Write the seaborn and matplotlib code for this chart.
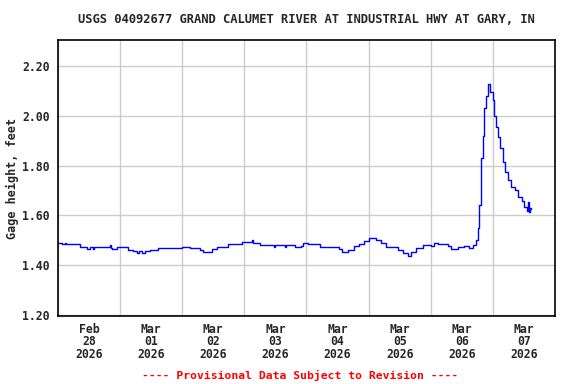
import pandas as pd
import numpy as np
import seaborn as sns
import matplotlib
matplotlib.use("Agg")
import matplotlib.pyplot as plt
import matplotlib.dates as mdates
from matplotlib.ticker import NullFormatter

# hours after 2026-02-28 00:00 and gage height (ft)
hours = [0.0, 1.5, 2.6, 3.0, 8.5, 11.2, 12.4, 13.6, 14.0, 15.5,
         20.1, 20.5, 20.9, 22.8, 27.1, 29.0, 30.6, 31.1, 32.6, 33.6,
         34.0, 35.6, 38.7, 48.0, 51.1, 55.0, 56.1, 59.6, 61.5, 65.8,
         71.2, 75.1, 75.5, 78.2, 80.1, 83.6, 84.0, 87.6, 88.0, 91.7,
         93.7, 94.8, 96.4, 101.4, 108.4, 109.9, 112.2, 114.2, 116.1, 118.1,
         120.0, 122.7, 124.6, 126.6, 131.2, 133.1, 135.1, 136.2, 138.2, 140.9,
         144.0, 145.1, 146.7, 150.6, 151.7, 154.4, 156.8, 158.7, 160.2, 161.4,
         162.2, 162.6, 163.3, 164.1, 164.5, 165.3, 166.1, 166.8, 168.0, 168.4,
         169.1, 169.9, 170.7, 171.9, 172.6, 173.8, 175.0, 176.5, 177.7, 179.2,
         180.0, 181.1, 181.5, 181.9, 182.3, 182.7]
gage = [1.490, 1.485, 1.490, 1.485, 1.472, 1.466, 1.472, 1.466, 1.472, 1.472,
        1.480, 1.468, 1.466, 1.472, 1.462, 1.455, 1.450, 1.455, 1.450, 1.455,
        1.455, 1.462, 1.469, 1.473, 1.469, 1.462, 1.453, 1.466, 1.473, 1.486,
        1.492, 1.500, 1.489, 1.480, 1.480, 1.473, 1.480, 1.473, 1.480, 1.473,
        1.476, 1.489, 1.485, 1.472, 1.466, 1.453, 1.462, 1.476, 1.486, 1.498,
        1.509, 1.500, 1.489, 1.473, 1.462, 1.449, 1.436, 1.453, 1.469, 1.482,
        1.476, 1.489, 1.486, 1.476, 1.466, 1.472, 1.476, 1.469, 1.480, 1.500,
        1.550, 1.640, 1.830, 1.920, 2.030, 2.080, 2.127, 2.097, 2.063, 2.000,
        1.956, 1.916, 1.870, 1.816, 1.775, 1.742, 1.715, 1.702, 1.675, 1.658,
        1.635, 1.618, 1.653, 1.615, 1.630, 1.625]

start = pd.Timestamp("2026-02-28")
df = pd.DataFrame({"time": start + pd.to_timedelta(hours, unit="h"), "gage": gage})

sns.set_style("white")
plt.rcParams['font.family'] = ['DejaVu Sans Mono']
plt.rcParams['font.weight'] = 'bold'

fig = plt.figure(figsize=(5.76, 3.84), dpi=100)
ax = fig.add_axes([0.1007, 0.177, 0.8628, 0.719])

sns.lineplot(data=df, x="time", y="gage", color="#0000ff", linewidth=1.0,
             estimator=None, drawstyle="steps-post", ax=ax)

ax.set_xlim(start, start + pd.Timedelta(days=8))
ax.set_ylim(1.196, 2.304)
ax.set_yticks([1.2, 1.4, 1.6, 1.8, 2.0, 2.2])
ax.set_yticklabels(["%.2f" % v for v in [1.2, 1.4, 1.6, 1.8, 2.0, 2.2]])

ax.xaxis.set_major_locator(mdates.DayLocator())
ax.xaxis.set_major_formatter(NullFormatter())
ax.xaxis.set_minor_locator(mdates.HourLocator(byhour=12))
ax.xaxis.set_minor_formatter(mdates.DateFormatter("%b\n%d\n%Y"))
ax.tick_params(axis="both", which="both", length=0, labelsize=8.3)
ax.tick_params(axis="x", which="minor", pad=5)
ax.tick_params(axis="y", pad=6)
for lab in ax.get_xticklabels(minor=True):
    lab.set_fontweight("bold")
    lab.set_linespacing(0.95)
for lab in ax.get_yticklabels():
    lab.set_fontweight("bold")

ax.grid(True, which="major", color="#cccccc", linewidth=1.0)
for s in ax.spines.values():
    s.set_color("black")
    s.set_linewidth(1.2)

ax.set_xlabel("")
ax.set_ylabel("Gage height, feet", fontsize=8.5, fontweight="bold", labelpad=2)
ax.set_title("USGS 04092677 GRAND CALUMET RIVER AT INDUSTRIAL HWY AT GARY, IN",
             fontsize=8.7, fontweight="bold", pad=12)

fig.text(0.521, 0.008, "---- Provisional Data Subject to Revision ----",
         color="#ff0000", fontsize=8.2, fontweight="bold", ha="center", va="bottom")

fig.savefig("out.png", dpi=100)
